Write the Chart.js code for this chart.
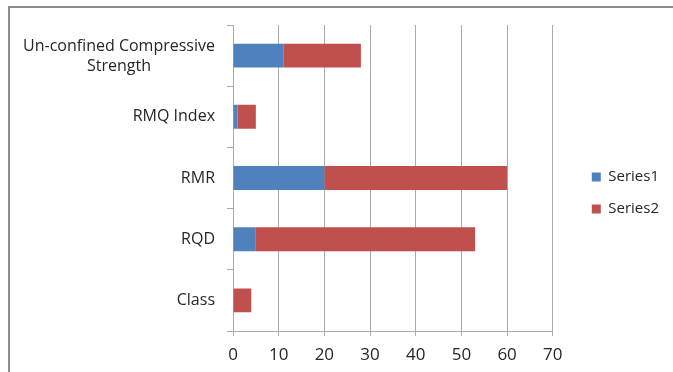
<!DOCTYPE html>
<html>
<head>
<meta charset="utf-8">
<script src="https://cdn.jsdelivr.net/npm/chart.js@4"></script>
<style>
  html, body { margin: 0; padding: 0; background: #ffffff; }
  #wrap { position: relative; width: 673px; height: 372px; overflow: hidden; }
  #frame { position: absolute; left: 8px; top: 6px; width: 720px; height: 420px;
           border-top: 2px solid #8c8c8c; border-left: 2px solid #8c8c8c; }
  canvas { position: absolute; left: 0; top: 0; }
</style>
</head>
<body>
<div id="wrap">
  <div id="frame"></div>
  <canvas id="chart" width="673" height="372"></canvas>
</div>
<script>
// Rock mass parameters (top to bottom)
const categories = [['Un-confined Compressive', 'Strength'], 'RMQ Index', 'RMR', 'RQD', 'Class'];
const series1 = [11, 1, 20, 5, 0];
const series2 = [17, 4, 40, 48, 4];
const seriesNames = ['Series1', 'Series2'];
const xMin = 0, xMax = 70, xStep = 10;

const TEXT = '#262626';
const LINE = '#ababab';
const FONT = '"Open Sans", "DejaVu Sans", sans-serif';

// Category labels: block right-aligned against the axis, lines centred within the block
const categoryLabels = {
  id: 'categoryLabels',
  afterDraw(chart) {
    const ys = chart.scales.y;
    const ctx = chart.ctx;
    ctx.save();
    ctx.font = '16px ' + FONT;
    ctx.fillStyle = TEXT;
    ctx.textBaseline = 'middle';
    ctx.textAlign = 'center';
    const right = ys.right - 18;
    chart.data.labels.forEach((lab, i) => {
      const lines = Array.isArray(lab) ? lab : [lab];
      const w = Math.max(...lines.map(l => ctx.measureText(l).width));
      const cx = right - w / 2;
      const yc = ys.getPixelForTick(i) + (lines.length > 1 ? 1 : 0);
      const lh = 20;
      lines.forEach((l, j) => ctx.fillText(l, cx, yc + (j - (lines.length - 1) / 2) * lh));
    });
    ctx.restore();
  }
};

// Move the legend block to sit further out in the right margin
const legendOffset = {
  id: 'legendOffset',
  afterLayout(chart) {
    const lg = chart.legend;
    if (!lg) return;
    const dx = 22, dy = -5.5;
    lg.left += dx; lg.right += dx;
    lg.top += dy; lg.bottom += dy;
  }
};

new Chart(document.getElementById('chart'), {
  type: 'bar',
  data: {
    labels: categories,
    datasets: [
      { label: seriesNames[0], data: series1, backgroundColor: '#4f81bd', borderWidth: 0 },
      { label: seriesNames[1], data: series2, backgroundColor: '#c0504d', borderWidth: 0 }
    ]
  },
  options: {
    indexAxis: 'y',
    responsive: false,
    animation: false,
    events: [],
    layout: { padding: { top: 25, right: 26, bottom: 0, left: 0 } },
    datasets: { bar: { categoryPercentage: 1.0, barPercentage: 0.39 } },
    scales: {
      x: {
        stacked: true,
        min: xMin, max: xMax,
        ticks: { stepSize: xStep, color: TEXT, font: { family: FONT, size: 17 }, padding: 9, maxRotation: 0 },
        grid: { color: LINE, lineWidth: 1, drawTicks: true, tickLength: 5, tickColor: LINE },
        border: { display: true, color: LINE, width: 1 },
        afterFit(scale) { scale.height = 41; }
      },
      y: {
        stacked: true,
        ticks: { display: false },
        grid: { offset: true, drawOnChartArea: false, drawTicks: true, tickLength: 6, color: LINE },
        border: { display: true, color: LINE, width: 1 },
        afterFit(scale) { scale.width = 233; }
      }
    },
    plugins: {
      legend: {
        position: 'right',
        align: 'center',
        labels: {
          boxWidth: 9, boxHeight: 9, padding: 17,
          color: TEXT,
          font: { family: FONT, size: 15 }
        }
      },
      tooltip: { enabled: false }
    }
  },
  plugins: [categoryLabels, legendOffset]
});
</script>
</body>
</html>
